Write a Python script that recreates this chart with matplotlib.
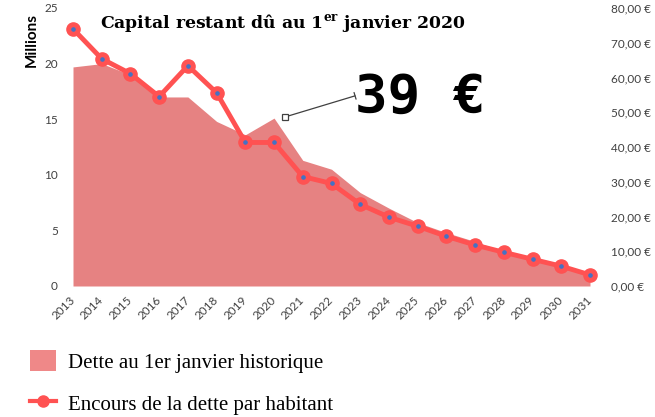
import matplotlib
matplotlib.use("Agg")
import matplotlib.pyplot as plt
from matplotlib.patches import Patch
from matplotlib.lines import Line2D

years = list(range(2013, 2032))
dette_millions = [19.7, 20.0, 19.0, 17.0, 17.0, 14.8, 13.6, 15.1, 11.3, 10.5,
                  8.4, 7.0, 5.7, 4.8, 4.0, 3.1, 2.4, 1.8, 0.9]
encours_habitant = [74.0, 65.4, 61.1, 54.5, 63.4, 55.6, 41.3, 41.3, 31.5, 29.5,
                    23.5, 19.8, 17.2, 14.3, 11.8, 9.7, 7.7, 5.7, 3.2]
left_ticks = [0, 5, 10, 15, 20, 25]
right_ticks = [0, 10, 20, 30, 40, 50, 60, 70, 80]
title_text = "Capital restant dû au 1$^{\\mathbf{er}}$ janvier 2020"
big_value = "39 €"
legend_labels = ["Dette au 1er janvier historique", "Encours de la dette par habitant"]

area_color = "#E68282"
line_color = "#FF5252"
dot_color = "#4472C4"
tick_color = "#404040"

plt.rcParams['mathtext.fontset'] = 'dejavuserif'

fig = plt.figure(figsize=(6.55, 4.17), dpi=100)
ax = fig.add_axes([73/655, 1-286/417, (590-73)/655, (286-8)/417])
ax.fill_between(years, dette_millions, 0, color=area_color, lw=0)
ax.set_xlim(2013, 2031)
ax.set_ylim(0, 25)
ax.set_yticks(left_ticks)
ax.set_xticks(years)
ax.set_xticklabels([str(y) for y in years], rotation=45, ha='right',
                   rotation_mode='anchor', va='center')
for s in ax.spines.values():
    s.set_visible(False)
ax.tick_params(axis='both', length=0, colors=tick_color, labelsize=8.5)
ax.tick_params(axis='y', pad=11)
ax.tick_params(axis='x', pad=9)
for lbl in ax.get_xticklabels() + ax.get_yticklabels():
    lbl.set_fontfamily(['Lato', 'DejaVu Sans'])

ax2 = ax.twinx()
ax2.plot(years, encours_habitant, color=line_color, lw=3.5, marker='o',
         markersize=9.5, markerfacecolor=line_color, markeredgecolor=line_color,
         clip_on=False, zorder=3)
ax2.plot(years, encours_habitant, linestyle='none', marker='o', markersize=2.3,
         color=dot_color, clip_on=False, zorder=4)
ax2.set_ylim(0, 80)
ax2.set_yticks(right_ticks)
ax2.set_yticklabels([f"{v:.2f}".replace('.', ',') + " €" for v in right_ticks])
for s in ax2.spines.values():
    s.set_visible(False)
ax2.tick_params(axis='y', length=0, colors=tick_color, labelsize=8.5, pad=15)
for lbl in ax2.get_yticklabels():
    lbl.set_fontfamily(['Lato', 'DejaVu Sans'])

fig.text(32/655, 1-40/417, "Millions", rotation=90, ha='center', va='center',
         fontsize=11, fontweight='bold', family=['Lato', 'DejaVu Sans'], color='black')

fig.text(100/655, 1-23/417, title_text, ha='left', va='center', fontsize=12.4,
         fontweight='bold', family='DejaVu Serif')

fig.text(355/655, 1-98/417, big_value, ha='left', va='center', fontsize=39,
         fontweight='bold', family='DejaVu Sans Mono')

# leader line for annotation
ax.annotate('', xy=(2022.82, 17.1), xytext=(2020.38, 15.2),
            arrowprops=dict(arrowstyle='|-|,widthA=0,widthB=0.25', color='#404040',
                            lw=0.9, shrinkA=0, shrinkB=0))
ax.plot([2020.38], [15.2], marker='s', markersize=4.5, markerfacecolor='white',
        markeredgecolor='#404040', markeredgewidth=0.9, zorder=5)

handles = [Patch(facecolor="#EF8888", edgecolor='none'),
           Line2D([0], [0], color=line_color, lw=3, marker='o', markersize=8,
                  markerfacecolor=line_color, markeredgecolor=line_color)]
fig.legend(handles, legend_labels, loc='upper left',
           bbox_to_anchor=(24/655, 1-344/417), frameon=False,
           prop={'family': 'Liberation Serif', 'size': 15},
           handlelength=1.25, handleheight=1.15, handletextpad=0.55,
           labelspacing=0.95, borderaxespad=0, borderpad=0.3)

fig.savefig("out.png", dpi=100)
